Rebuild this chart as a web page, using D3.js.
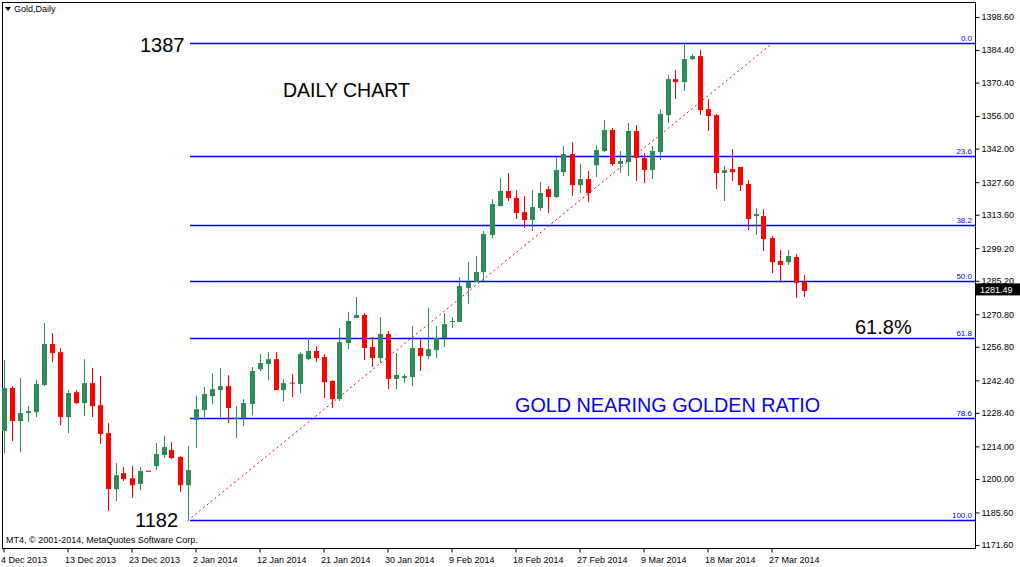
<!DOCTYPE html>
<html><head><meta charset="utf-8">
<script src="https://cdn.jsdelivr.net/npm/d3@7"></script>
<style>body{margin:0;background:#fff}svg{display:block;font-family:"Liberation Sans",Arial,sans-serif}</style>
</head><body><svg id="c" width="1020" height="567"></svg>
<script>
const opens=[1220.6,1239.1,1224.9,1228.3,1228.7,1240.4,1258,1254.5,1226.6,1237.3,1232.6,1241.2,1231.7,1219.7,1195.6,1202.5,1200.3,1197.8,1203.5,1205.5,1210.3,1212.4,1209.4,1197.3,1225.3,1229.6,1235.6,1238.2,1239.9,1226.1,1226.1,1232.2,1247.2,1249.4,1251.5,1238.2,1241.4,1240.8,1251.5,1255.0,1252.4,1242.1,1234.3,1258.4,1269.2,1270.5,1256.7,1252.0,1262.3,1243.0,1243.4,1243.8,1256.3,1252.8,1255.4,1260.6,1267.7,1267.5,1282.1,1284.7,1289.0,1304.9,1317.3,1323.8,1320.8,1314.7,1311.3,1316.5,1324.6,1321.2,1331.9,1339.7,1326.3,1328.9,1334.9,1341,1350,1335.4,1336.2,1349.6,1338,1332.8,1340.5,1356.4,1371.9,1370.6,1380.5,1381.8,1359,1356.4,1331.5,1333.2,1334.1,1326.8,1313,1313.0,1303.6,1293.7,1293.2,1295.4,1284.7];
const closes=[1239.1,1224.9,1228.3,1229.2,1240.8,1258.0,1254.1,1226.6,1236.9,1232.6,1241.2,1231.3,1219.3,1195.6,1201.6,1199.9,1197.3,1203.4,1203.3,1210.7,1213.7,1209.0,1197.3,1203.8,1230.0,1236.5,1238.6,1239.9,1230.5,1226.3,1232.6,1246.4,1249.8,1251.5,1238.2,1241.2,1241.1,1253.7,1255.0,1252.0,1241.6,1234.3,1258.8,1267.9,1270.5,1256.3,1252.0,1262.3,1243.0,1244.7,1244.2,1256.3,1252.8,1255.8,1260.6,1266.6,1267.9,1283.0,1284.7,1289.0,1305.3,1318.2,1323.8,1320.8,1314.3,1311.3,1316.9,1322.9,1321.2,1332.8,1339.7,1326.3,1328.9,1322.9,1341.4,1350,1335.4,1336.7,1349.6,1338.0,1332.8,1341,1356.9,1371.9,1370.6,1380.5,1381.8,1358.6,1356,1331.5,1332.8,1331.9,1326.3,1311.7,1313.9,1303.1,1293.2,1292.0,1295.8,1284.2,1280.8];
const highs=[1251.1,1239.9,1243.4,1231.3,1242.5,1267.0,1262.7,1256.3,1238.2,1238.2,1251.5,1247.7,1244.2,1224.0,1206.8,1205.1,1205.5,1205.1,1203.5,1215.4,1218.4,1215.8,1209.8,1214.1,1235.6,1239.5,1245.5,1247.7,1244.6,1231.3,1234.3,1248.1,1253.7,1254.5,1254.5,1242.9,1245.1,1254.5,1260.6,1257.1,1253.7,1242.5,1264.9,1271.8,1278.2,1271.3,1261.0,1269.6,1263.6,1254.1,1245.1,1265.7,1260.1,1273.5,1265.7,1271.3,1269.6,1286.8,1293.2,1295.8,1306.6,1320.3,1329.4,1331.5,1324.2,1321.6,1324.2,1327.6,1325.9,1338.4,1343.1,1344.8,1335.4,1332.4,1343.5,1354.3,1350.9,1341,1353,1352.1,1340.1,1343.1,1359,1373.6,1375.8,1387.4,1382.7,1384.4,1363.3,1356.9,1334.5,1341.8,1334.1,1328.5,1316.5,1316.0,1304.4,1298.4,1298.4,1296.7,1287.7];
const lows=[1211.1,1216.3,1211.5,1224.4,1226.6,1239.9,1250.2,1223.1,1219.7,1232.1,1227.0,1226.6,1215.0,1186.2,1190.5,1199.1,1191.8,1195.2,1203.3,1203.8,1209.0,1208.5,1194.3,1182.3,1213.3,1226.6,1232.2,1226.6,1224.0,1217.6,1222.7,1227.4,1246.4,1242.5,1238.2,1233.4,1235.2,1236.9,1251.0,1250.2,1234.8,1230.5,1233.5,1255.8,1269.2,1251.1,1248.1,1249.8,1238.6,1238.6,1241.2,1239.9,1246.4,1251.5,1251.9,1256.7,1264.9,1267.5,1275.2,1284.7,1285.1,1303.6,1317.3,1319.5,1311.7,1307.9,1306.6,1315.2,1314.3,1320.8,1330.2,1321.6,1322.9,1319.0,1329.8,1340.5,1334.5,1331.5,1330.2,1328.1,1327.2,1328.9,1337.1,1353.0,1363.3,1366.8,1380.1,1356.5,1349.6,1324.6,1319.5,1328.1,1323.8,1307.0,1304.9,1298.0,1288.5,1285.1,1292.0,1277.8,1278.2];
const dateLabels=["4 Dec 2013","13 Dec 2013","23 Dec 2013","2 Jan 2014","12 Jan 2014","21 Jan 2014","30 Jan 2014","9 Feb 2014","18 Feb 2014","27 Feb 2014","9 Mar 2014","18 Mar 2014","27 Mar 2014"];
const dateIdx=[0,8,16,24,32,40,48,56,64,72,80,88,96];
const priceTicks=[1398.60,1384.40,1370.40,1356.00,1342.00,1327.60,1313.60,1299.20,1285.20,1270.80,1256.80,1242.40,1228.40,1214.00,1200.00,1185.60,1171.60];
const fibLevels=["0.0","23.6","38.2","50.0","61.8","78.6","100.0"];
const fibRatios=[0,0.236,0.382,0.5,0.618,0.786,1];
const fibHigh=1387, fibLow=1182, lastPrice=1281.49;
const fibStartIdx=23, fibEndIdx=96;

const svg=d3.select("#c");
const x=d3.scaleLinear().domain([0,100]).range([3.5,803.5]);
const y=d3.scaleLinear().domain([1171.6,1398.6]).range([545,17]);
const R=975,B=548;
svg.append("rect").attr("x",2.5).attr("y",2.5).attr("width",R-2).attr("height",B-2).attr("fill","none").attr("stroke","#000");
svg.append("path").attr("d","M5,7 L11,7 L8,11 Z").attr("fill","#000");
svg.append("text").attr("x",14).attr("y",12).attr("font-size",9).text("Gold,Daily");
const ya=svg.append("g").attr("transform",`translate(${R+0.5},0)`).call(d3.axisRight(y).tickValues(priceTicks).tickFormat(d3.format(".2f")).tickSize(4));
ya.select(".domain").remove();
ya.selectAll("text").attr("font-size",9).attr("font-family","Liberation Sans,Arial").attr("x",6);
const xa=svg.append("g").attr("transform",`translate(0,${B+0.5})`).call(d3.axisBottom(x).tickValues(dateIdx).tickFormat((d,i)=>dateLabels[i]).tickSize(4));
xa.select(".domain").remove();
xa.selectAll("text").attr("font-size",9).attr("font-family","Liberation Sans,Arial").attr("text-anchor","start").attr("dx",-3).attr("y",8);
const fx0=190;
fibRatios.forEach((r,i)=>{
  const p=fibHigh-(fibHigh-fibLow)*r, yy=Math.round(y(p))-0.5;
  svg.append("line").attr("x1",fx0).attr("x2",R).attr("y1",yy).attr("y2",yy).attr("stroke","#0000ff").attr("stroke-width",1.6);
  svg.append("text").attr("x",R-3).attr("y",yy-3).attr("text-anchor","end").attr("font-size",8).attr("fill","#0000ff").text(fibLevels[i]);
});
svg.append("line").attr("x1",x(fibStartIdx)).attr("y1",y(fibLow)).attr("x2",x(fibEndIdx)).attr("y2",y(fibHigh)).attr("stroke","#ff0000").attr("stroke-dasharray","2,3");
const g=svg.append("g");
opens.forEach((o,i)=>{
  const c=closes[i],up=c>=o,col=up?"#2e8b57":"#ff0000",cx=Math.round(x(i))+0.5;
  g.append("line").attr("x1",cx).attr("x2",cx).attr("y1",y(highs[i])).attr("y2",y(lows[i])).attr("stroke",col);
  const top=y(Math.max(o,c)),bot=y(Math.min(o,c));
  g.append("rect").attr("x",cx-2.5).attr("y",top).attr("width",5).attr("height",Math.max(1,bot-top)).attr("fill",col);
});
const ly=y(lastPrice);
svg.append("rect").attr("x",R+1).attr("y",ly-6).attr("width",44).attr("height",12).attr("fill","#000");
svg.append("text").attr("x",R+5).attr("y",ly+3.5).attr("font-size",9).attr("fill","#fff").text(lastPrice.toFixed(2));
const ann=[["1387",140,52,20,"#000"],["1182",135,527,20,"#000"],["DAILY CHART",283,97,19.5,"#000"],["61.8%",855,334,20,"#000"],["GOLD NEARING GOLDEN RATIO",515,412,19.8,"#0000ff"]];
ann.forEach(a=>svg.append("text").attr("x",a[1]).attr("y",a[2]).attr("font-size",a[3]).attr("fill",a[4]).text(a[0]));
svg.append("text").attr("x",6).attr("y",543).attr("font-size",9).text("MT4, © 2001-2014, MetaQuotes Software Corp.");
</script></body></html>
